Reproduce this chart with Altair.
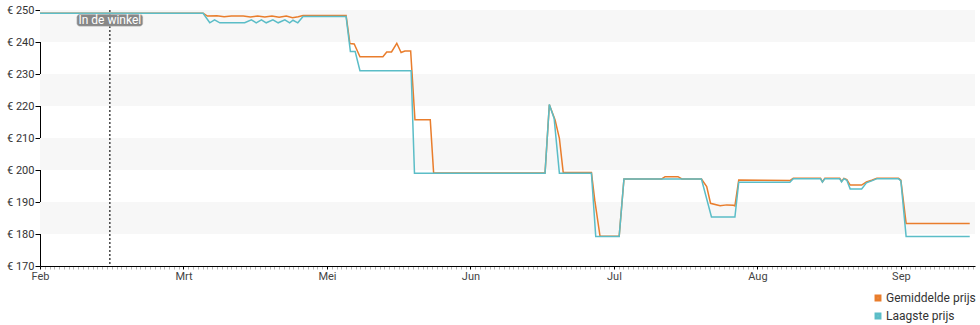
import json
import altair as alt
import pandas as pd

# ---- data -------------------------------------------------------------
months = ["Feb", "Mrt", "Mei", "Jun", "Jul", "Aug", "Sep"]
month_step = 30          # x-units between month labels
x_max = 195.5

series_names = ["Gemiddelde prijs", "Laagste prijs"]
series_colors = ["#e97d2c", "#5bbdc7"]

avg_days = [0, 34.1, 35.0, 37.0, 38.5, 40.0, 42.5, 44.0, 45.5, 47.0, 48.5, 50.0, 51.5,
            52.8, 54.0, 55.0, 64.0, 64.8, 65.7, 66.9, 71.7, 72.5, 73.5, 74.6, 75.5,
            76.3, 77.5, 78.4, 81.6, 82.3, 105.6, 106.5, 107.7, 108.6, 109.4, 115.3,
            116.0, 117.1, 121.1, 122.1, 130.0, 130.7, 133.4, 134.2, 138.3, 139.4,
            140.2, 142.2, 143.6, 145.0, 145.3, 146.1, 151.0, 156.8, 157.5, 163.2,
            163.6, 164.1, 167.2, 167.6, 168.1, 168.7, 169.4, 171.8, 172.8, 173.9,
            175.0, 179.5, 180.0, 181.1, 194.4]
avg_prices = [249, 249, 248.1, 248.2, 247.9, 248.1, 248.1, 247.8, 248.1, 247.8, 248.1,
              247.7, 248.1, 247.6, 247.9, 248.3, 248.3, 239.5, 239.4, 235.4, 235.4,
              236.9, 236.9, 239.6, 236.7, 237.2, 237.2, 215.7, 215.7, 199.1, 199.1,
              220.4, 215.6, 209.9, 199.2, 199.2, 190.5, 179.3, 179.3, 197.2, 197.2,
              197.9, 197.9, 197.2, 197.2, 194.8, 189.6, 188.8, 189.1, 189.0, 188.8,
              196.9, 196.8, 196.7, 197.4, 197.4, 196.3, 197.4, 197.4, 196.5, 197.4,
              197.0, 195.3, 195.3, 196.3, 196.8, 197.4, 197.4, 196.8, 183.3, 183.3]

low_days = [0, 34.1, 35.5, 36.5, 37.6, 42.8, 44.2, 45.2, 46.3, 47.3, 48.7, 49.8, 51.2,
            52.2, 52.9, 53.9, 55.0, 64.0, 64.9, 65.9, 66.9, 77.6, 78.3, 105.6, 106.5,
            107.5, 108.6, 115.3, 116.2, 121.1, 122.1, 138.3, 140.4, 145.3, 146.1,
            156.8, 157.5, 163.2, 163.6, 164.1, 167.2, 167.6, 168.1, 168.7, 169.4,
            171.8, 172.8, 173.9, 175.0, 179.5, 180.0, 181.1, 194.4]
low_prices = [249, 249, 246.0, 246.9, 246.0, 246.0, 246.9, 246.0, 246.9, 246.0, 246.9,
              246.0, 246.9, 246.0, 246.8, 246.0, 248.0, 248.0, 237.0, 237.0, 231.0,
              231.0, 199.0, 199.0, 220.5, 216.1, 199.0, 199.0, 179.2, 179.2, 197.2,
              197.2, 185.3, 185.3, 196.2, 196.2, 197.3, 197.3, 196.2, 197.3, 197.3,
              196.3, 197.3, 196.8, 194.1, 194.1, 196.0, 196.6, 197.3, 197.3, 196.6,
              179.2, 179.2]

y_ticks = [170, 180, 190, 200, 210, 220, 230, 240, 250]
band_lo = [240, 220, 200, 180]
band_hi = [250, 230, 210, 190]

event_day = 14.6
event_label = "In de winkel"

# ---- tables -----------------------------------------------------------
df = pd.concat([
    pd.DataFrame({"dag": avg_days, "prijs": avg_prices, "reeks": series_names[0]}),
    pd.DataFrame({"dag": low_days, "prijs": low_prices, "reeks": series_names[1]}),
], ignore_index=True)
bands = pd.DataFrame({"lo": band_lo, "hi": band_hi})
event = pd.DataFrame({"dag": [event_day], "label": [event_label]})

FONT = "Roboto"
xscale = alt.Scale(domain=[0, x_max], nice=False, zero=False)
yscale = alt.Scale(domain=[170, 250], nice=False, zero=False)

minor_ticks = list(range(0, int(x_max) + 1))
is_major = f"datum.value % {month_step} === 0"
label_expr = f"{is_major} ? {json.dumps(months)}[round(datum.value / {month_step})] : ''"

x_axis = alt.Axis(
    values=minor_ticks, labelExpr=label_expr, labelOverlap=False, labelFlush=False,
    labelBound=False, grid=False, domainColor="#000", domainWidth=1,
    tickColor={"condition": {"test": is_major, "value": "#000"}, "value": "#b5b5b5"},
    tickSize=3, tickWidth=1, labelFont=FONT, labelFontSize=11, labelColor="#444",
    labelPadding=1, title=None,
)
y_axis = alt.Axis(
    values=y_ticks, labelExpr="'€ ' + datum.value", grid=False,
    domainColor="#000", tickColor="#000", tickSize=5, labelFont=FONT,
    labelFontSize=11, labelColor="#333", labelPadding=1, title=None,
)

band_layer = alt.Chart(bands).mark_rect(color="#f7f7f7").encode(
    y=alt.Y("lo:Q", scale=yscale, axis=y_axis),
    y2="hi:Q",
)

line_layer = alt.Chart(df).mark_line(strokeWidth=1.5, interpolate="linear").encode(
    x=alt.X("dag:Q", scale=xscale, axis=x_axis),
    y=alt.Y("prijs:Q", scale=yscale, axis=y_axis),
    color=alt.Color("reeks:N",
                    scale=alt.Scale(domain=series_names, range=series_colors),
                    legend=alt.Legend(orient="none", legendX=832, legendY=282,
                                      title=None, symbolType="square", symbolSize=14,
                                      symbolStrokeWidth=3.2, labelFont=FONT,
                                      labelFontSize=12, labelColor="#333",
                                      labelOffset=2, rowPadding=0)),
)

rule_layer = alt.Chart(event).mark_rule(color="#444", strokeDash=[2, 2], strokeWidth=1.5).encode(
    x=alt.X("dag:Q", scale=xscale, axis=x_axis),
)

box_layer = alt.Chart(event).mark_rect(
    width=66, height=12, cornerRadius=3, color="#878787", stroke="#cfcfcf", strokeWidth=0.5
).encode(
    x=alt.X("dag:Q", scale=xscale, axis=x_axis),
    y=alt.value(10.3),
)

text_layer = alt.Chart(event).mark_text(
    color="#ffffff", font=FONT, fontSize=12, baseline="middle", align="center"
).encode(
    x=alt.X("dag:Q", scale=xscale, axis=x_axis),
    y=alt.value(10.3),
    text="label:N",
)

chart = alt.layer(band_layer, rule_layer, line_layer, box_layer, text_layer).properties(
    width=935, height=256,
    autosize=alt.AutoSizeParams(type="none"),
    padding={"left": 40, "top": 10, "right": 5, "bottom": 59},
).configure_view(stroke=None)

chart.save("out.html", embed_options={"renderer": "svg", "actions": False})
